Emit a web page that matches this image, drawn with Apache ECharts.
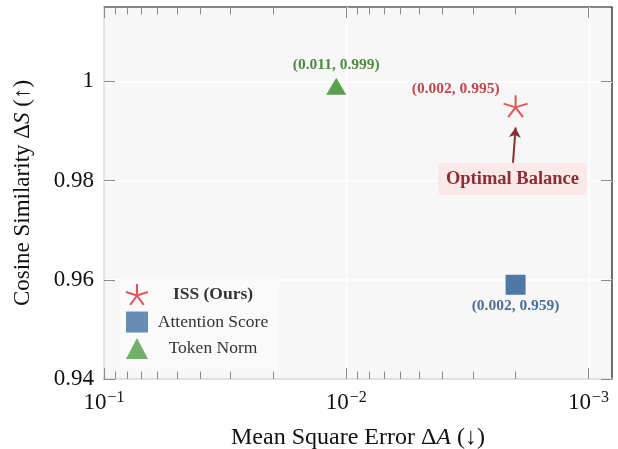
<!DOCTYPE html>
<html>
<head>
<meta charset="utf-8">
<script src="https://cdn.jsdelivr.net/npm/echarts@6/dist/echarts.min.js"></script>
<style>
html,body{margin:0;padding:0;background:#fff;}
#chart{width:618px;height:449px;}
</style>
</head>
<body>
<div id="chart"></div>
<script>
// ---- data ----
const methods = ['ISS (Ours)', 'Attention Score', 'Token Norm'];
const mseValues = [0.002, 0.002, 0.011];
const cosineValues = [0.995, 0.959, 0.999];
const pointLabels = ['(0.002, 0.995)', '(0.002, 0.959)', '(0.011, 0.999)'];
const xMajorTicks = [0.1, 0.01, 0.001];
const xMinorTicks = [0.09, 0.08, 0.07, 0.06, 0.05, 0.04, 0.03, 0.02,
                     0.009, 0.008, 0.007, 0.006, 0.005, 0.004, 0.003, 0.002];
const yTicks = [0.94, 0.96, 0.98, 1.0];
const annotationText = 'Optimal Balance';
const annotationBoxAt = [0.00206, 0.9803];
const arrowFrom = [0.00205, 0.9836];
const arrowTo = [0.002, 0.9907];

// ---- style ----
const SERIF = '"Liberation Serif", "Times New Roman", serif';
const xRange = {min: 0.0008, max: 0.1};
const yRange = {min: 0.94, max: 1.015};
const tickColor = '#8a8a8a';
const colors = ['#e15759', '#4e79a7', '#59a14f'];
const labelColors = ['#c4474d', '#4b6f99', '#4f8a44'];
const starPath = 'path://M0,0L0,-1M0,0L0.951,-0.309M0,0L0.588,0.809M0,0L-0.588,0.809M0,0L-0.951,-0.309';
const boxPath = 'path://M4,0H145Q149,0 149,4V28Q149,32 145,32H4Q0,32 0,28V4Q0,0 4,0Z';

const chart = echarts.init(document.getElementById('chart'), null, {renderer: 'canvas'});

function xLabelFmt(v) {
  const e = Math.round(Math.log10(v));
  return '{b|10}{s|' + (e < 0 ? '\u2212' + (-e) : e) + '}';
}

const nameRich = {
  n: {fontFamily: SERIF, fontSize: 24, color: '#111'},
  i: {fontFamily: SERIF, fontSize: 24, color: '#111', fontStyle: 'italic'}
};

function makeXAxis(pos, ticks, len, withLabels, withSplit, name) {
  return {
    type: 'log', logBase: 10, inverse: true,
    min: xRange.min, max: xRange.max,
    position: pos,
    gridIndex: 0,
    name: name || '',
    nameLocation: 'middle',
    nameGap: 47,
    nameTextStyle: {fontFamily: SERIF, fontSize: 24, color: '#111', rich: nameRich},
    axisLine: {show: false},
    axisTick: {show: true, inside: true, length: len, customValues: ticks,
               lineStyle: {color: tickColor, width: 1}},
    axisLabel: withLabels ? {
      show: true, customValues: xMajorTicks, margin: 11,
      formatter: xLabelFmt,
      rich: {
        b: {fontFamily: SERIF, fontSize: 23, color: '#111', lineHeight: 26},
        s: {fontFamily: SERIF, fontSize: 16, color: '#111', padding: [0, 0, 11, 1], lineHeight: 26}
      }
    } : {show: false},
    splitLine: withSplit ? {show: true, lineStyle: {color: '#ffffff', width: 1.6}} : {show: false},
    minorTick: {show: false},
    minorSplitLine: {show: false}
  };
}

function makeYAxis(pos, withLabels, name) {
  return {
    type: 'value', position: pos,
    min: yRange.min, max: yRange.max, interval: 0.02,
    name: name || '',
    nameLocation: 'middle',
    nameGap: 70,
    nameTextStyle: {fontFamily: SERIF, fontSize: 23, color: '#111',
      rich: {n: {fontFamily: SERIF, fontSize: 23, color: '#111'},
             i: {fontFamily: SERIF, fontSize: 23, color: '#111', fontStyle: 'italic'}}},
    axisLine: {show: false},
    axisTick: {show: true, inside: true, length: 11, customValues: yTicks,
               lineStyle: {color: tickColor, width: 1}},
    axisLabel: withLabels ? {
      show: true, customValues: yTicks, margin: 10,
      fontFamily: SERIF, fontSize: 23, color: '#111',
      padding: [11, 0, 0, 0],
      formatter: v => (Math.abs(v - 1) < 1e-9 ? '1' : String(+v.toFixed(2)))
    } : {show: false},
    splitLine: withLabels ? {show: true, lineStyle: {color: '#ffffff', width: 1.6}} : {show: false}
  };
}

const series = methods.map((name, i) => {
  const s = {
    type: 'scatter',
    name: name,
    xAxisIndex: 0, yAxisIndex: 0,
    data: [[mseValues[i], cosineValues[i]]],
    z: 5,
    label: {
      show: true,
      formatter: () => pointLabels[i],
      fontFamily: SERIF, fontWeight: 'bold', fontSize: 15.5, color: labelColors[i]
    },
    emphasis: {disabled: true}
  };
  if (i === 0) {
    s.symbol = starPath;
    s.symbolSize = [24, 23];
    s.symbolKeepAspect = true;
    s.itemStyle = {color: 'rgba(0,0,0,0)', borderColor: colors[0], borderWidth: 2, opacity: 1};
    s.label.position = 'left';
    s.label.distance = 3;
    s.label.offset = [0, -17];
    s.markPoint = {
      silent: true,
      symbol: boxPath,
      symbolSize: [149, 32],
      itemStyle: {color: '#fbe8e8', opacity: 1},
      label: {show: true, position: 'inside', formatter: annotationText,
              fontFamily: SERIF, fontWeight: 'bold', fontSize: 18.5, color: '#8b2e35'},
      data: [{coord: annotationBoxAt}]
    };
    s.markLine = {
      silent: true,
      symbol: ['none', 'arrow'],
      symbolSize: [9, 10],
      label: {show: false},
      lineStyle: {color: '#8b2e35', width: 2, type: 'solid', opacity: 1},
      data: [[{coord: arrowFrom}, {coord: arrowTo}]]
    };
  } else if (i === 1) {
    s.symbol = 'rect';
    s.symbolSize = 20;
    s.itemStyle = {color: colors[1], opacity: 1};
    s.label.position = 'bottom';
    s.label.distance = 3;
  } else {
    s.symbol = 'triangle';
    s.symbolSize = [20, 17];
    s.itemStyle = {color: colors[2], opacity: 1};
    s.label.position = 'top';
    s.label.distance = 5;
  }
  return s;
});

const option = {
  animation: false,
  backgroundColor: '#ffffff',
  grid: {
    left: 104, right: 6, top: 7, bottom: 70,
    show: true, backgroundColor: '#f7f7f7', borderColor: '#111', borderWidth: 1.2,
    containLabel: false,
    outerBoundsMode: 'none'
  },
  xAxis: [
    makeXAxis('bottom', xMajorTicks, 11, true, true, '{n|Mean Square Error \u0394}{i|A}{n| (\u2193)}'),
    makeXAxis('bottom', xMinorTicks, 7.5, false, false),
    makeXAxis('top', xMajorTicks, 11, false, false),
    makeXAxis('top', xMinorTicks, 7.5, false, false)
  ],
  yAxis: [
    makeYAxis('left', true, '{n|Cosine Similarity \u0394}{i|S}{n| (\u2191)}'),
    makeYAxis('right', false)
  ],
  legend: {
    orient: 'vertical',
    left: 120, top: 275,
    padding: [8, 10, 10, 5],
    itemWidth: 22, itemHeight: 21, itemGap: 5.6,
    backgroundColor: '#fafafa',
    selectedMode: false,
    formatter: n => '{t|' + n + '}',
    textStyle: {
      fontFamily: SERIF, fontSize: 17.5, color: '#333',
      rich: {t: {width: 120, align: 'center', fontFamily: SERIF, fontSize: 17.5, color: '#333'}}
    },
    data: [
      {name: methods[0], textStyle: {rich: {t: {width: 120, align: 'center', fontFamily: SERIF, fontSize: 17.5, fontWeight: 'bold', color: '#333'}}}},
      {name: methods[1], itemStyle: {opacity: 0.85}},
      {name: methods[2], itemStyle: {opacity: 0.85}}
    ]
  },
  series: series
};
chart.setOption(option);
</script>
</body>
</html>
